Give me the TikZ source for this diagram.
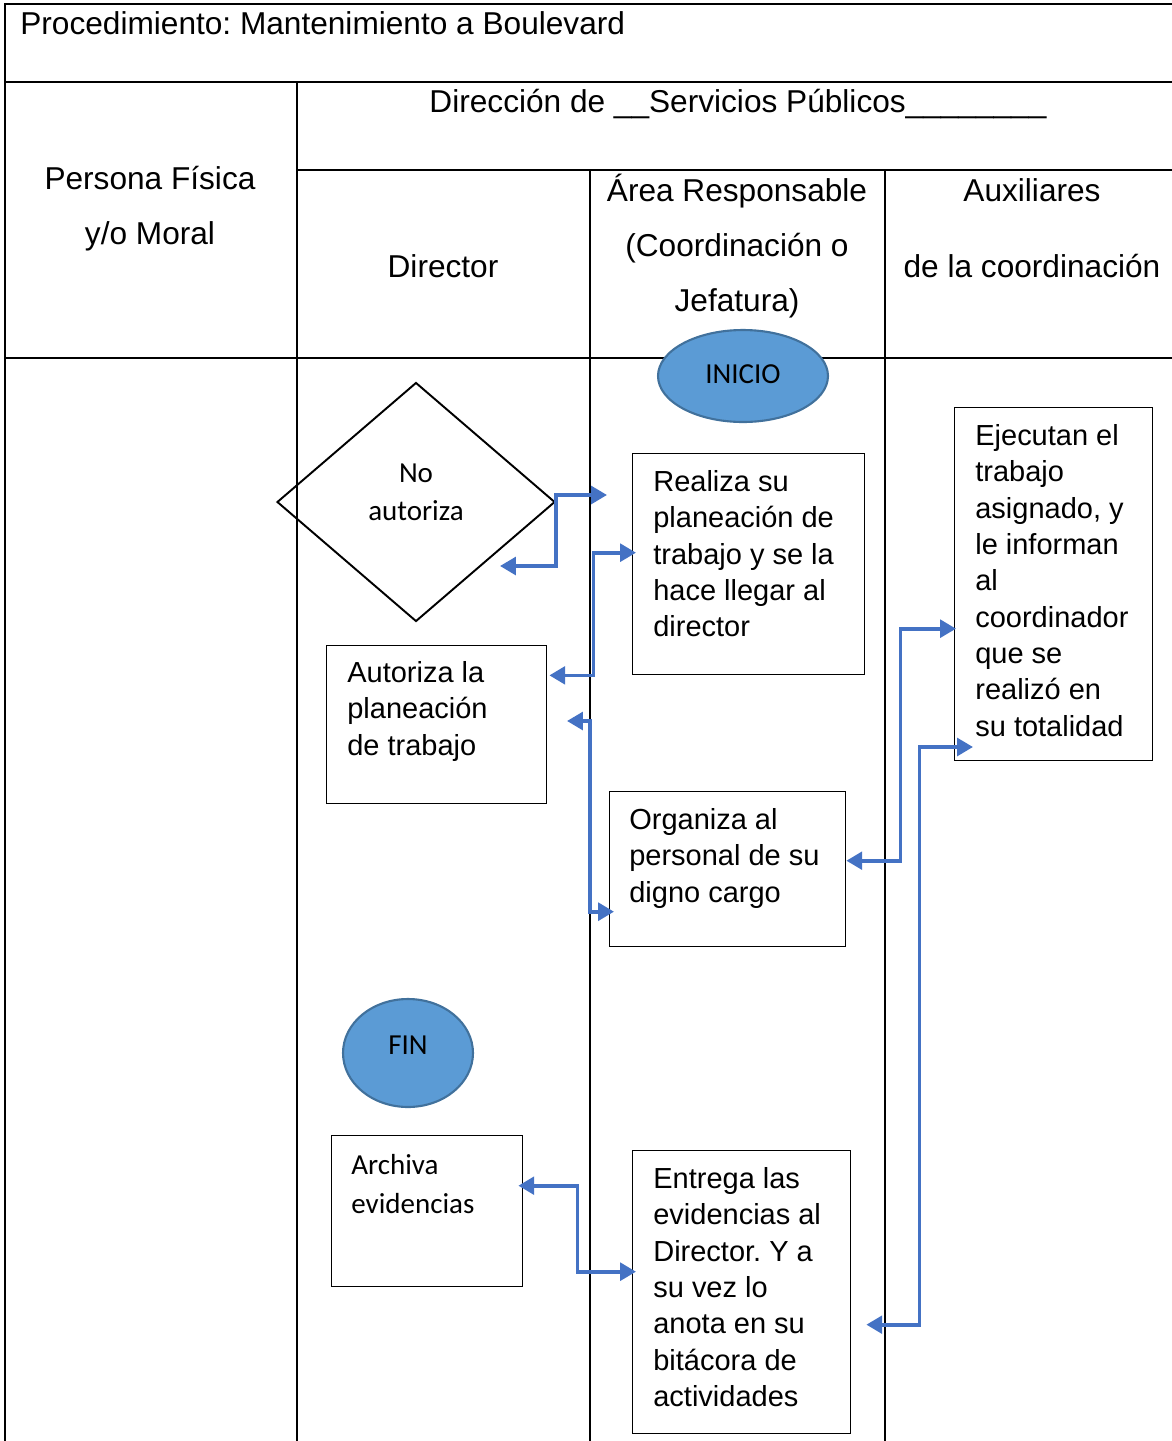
\documentclass[tikz,border=0pt]{standalone}
\usepackage{fontspec}
\setmainfont{Liberation Sans}
\newfontfamily\calibri{Carlito}
\usepackage{xcolor}
\definecolor{azul}{HTML}{4472C4}
\definecolor{relleno}{HTML}{5B9BD5}
\definecolor{borde}{HTML}{41719C}
\usetikzlibrary{calc,positioning,shapes,shapes.geometric,arrows.meta}
\frenchspacing
\tikzset{
  encab/.style={font=\fontsize{18}{21}\selectfont, inner sep=0pt, anchor=base},
  caja/.style={rectangle, draw=black, line width=0.8pt, anchor=north west, inner sep=0pt},
  texto/.style={font=\fontsize{16.5}{20.7}\selectfont, align=left, anchor=north west, inner sep=0pt},
  textoc/.style={font=\calibri\fontsize{16.5}{22}\selectfont, align=left, anchor=north west, inner sep=0pt},
  extremo/.style={ellipse, draw=borde, line width=1.2pt, fill=relleno, inner sep=0pt, font=\calibri\fontsize{16.5}{20}\selectfont},
  rombo/.style={diamond, draw=black, line width=1.1pt, inner sep=0pt, minimum width=5.56cm, minimum height=4.78cm},
  linea/.style={draw, line width=1.1pt},
  flecha/.style={draw=azul, line width=2.1pt, {Triangle[length=9pt,width=10pt]}-{Triangle[length=9pt,width=10pt]}},
}
\begin{document}
\begin{tikzpicture}[x=0.02cm, y=-0.02cm]
    \useasboundingbox (0,0) rectangle (1172,1441);

    % tabla
    \draw[linea] (5,1441) -- (5,4) -- (1172,4);
    \draw[linea] (5,82) -- (1172,82);
    \draw[linea] (297,82) -- (297,1441);
    \draw[linea] (297,170) -- (1172,170);
    \draw[linea] (590,170) -- (590,1441);
    \draw[linea] (885,170) -- (885,1441);
    \draw[linea] (5,358) -- (1172,358);

    % encabezados
    \node[encab, anchor=base west] (titulo) at (20,34) {Procedimiento: Mantenimiento a Boulevard};
    \node[encab] (direccion) at (738,112) {Dirección de \_\_Servicios Públicos\_\_\_\_\_\_\_\_};
    \node[encab] (persona) at (150,189) {Persona Física};
    \node[encab] (moral) at (150,244) {y/o Moral};
    \node[encab] (director) at (443,277) {Director};
    \node[encab] (area) at (737,201) {Área Responsable};
    \node[encab] (coord) at (737,256) {(Coordinación o};
    \node[encab] (jefatura) at (737,311) {Jefatura)};
    \node[encab] (aux) at (1032,201) {Auxiliares};
    \node[encab] (auxcoord) at (1032,277) {de la coordinación};

    % figuras
    \node[extremo, minimum width=3.4cm, minimum height=1.84cm, text depth=2pt] (inicio) at (743,376) {INICIO};
    \node[rombo, label={[font=\calibri\fontsize{16.5}{21.6}\selectfont, align=center, yshift=5.7pt]center:No\\autoriza}] (rombo) at (416,502) {};

    \node[caja, minimum width=4.64cm, minimum height=4.42cm] (realiza) at (632,453) {};
    \node[texto] (trealiza) at ($(realiza.north west)+(21,17)$) {Realiza su\\planeación de\\trabajo y se la\\hace llegar al\\director};

    \node[caja, minimum width=4.4cm, minimum height=3.16cm] (autoriza) at (326,645) {};
    \node[texto] (tautoriza) at ($(autoriza.north west)+(21,16)$) {Autoriza la\\planeación\\de trabajo};

    \node[caja, minimum width=3.96cm, minimum height=7.06cm] (ejecutan) at (954,407) {};
    \node[texto] (tejecutan) at ($(ejecutan.north west)+(21,17)$) {Ejecutan el\\trabajo\\asignado, y\\le informan\\al\\coordinador\\que se\\realizó en\\su totalidad};

    \node[caja, minimum width=4.72cm, minimum height=3.1cm] (organiza) at (609,791) {};
    \node[texto] (torganiza) at ($(organiza.north west)+(20,17)$) {Organiza al\\personal de su\\digno cargo};

    \node[extremo, minimum width=2.6cm, minimum height=2.16cm, text depth=9pt] (fin) at (408,1053) {FIN};

    \node[caja, minimum width=3.82cm, minimum height=3.02cm] (archiva) at (331,1135) {};
    \node[textoc] (tarchiva) at ($(archiva.north west)+(20,19)$) {Archiva\\evidencias};

    \node[caja, minimum width=4.36cm, minimum height=5.66cm] (entrega) at (632,1150) {};
    \node[texto] (tentrega) at ($(entrega.north west)+(21,17)$) {Entrega las\\evidencias al\\Director. Y a\\su vez lo\\anota en su\\bitácora de\\actividades};

    % conectores
    \coordinate (r1) at (500,566);
    \coordinate (r2) at (607,495);
    \coordinate (r3) at (567,721);
    \coordinate (r5) at (973,747);

    \draw[flecha] (r1) -| (rombo.east) |- (r2);
    \draw[flecha] ($(autoriza.east |- realiza.south)+(2,0)$) -- ++(44,0) |- ($(realiza.west)+(4,-11.5)$);
    \draw[flecha] (r3) -- ++(23,0) |- ($(organiza.west)+(5,42.5)$);
    \draw[flecha] ($(organiza.east)+(0,-8.5)$) -- ++(54,0) |- ($(ejecutan.west)+(2,44.5)$);
    \draw[flecha] ($(entrega.east)+(15,32.5)$) -- ++(53,0) |- (r5);
    \draw[flecha] ($(archiva.east)+(-5,-25.5)$) -- ++(59,0) |- ($(entrega.west)+(4,-20.5)$);

\end{tikzpicture}
\end{document}
